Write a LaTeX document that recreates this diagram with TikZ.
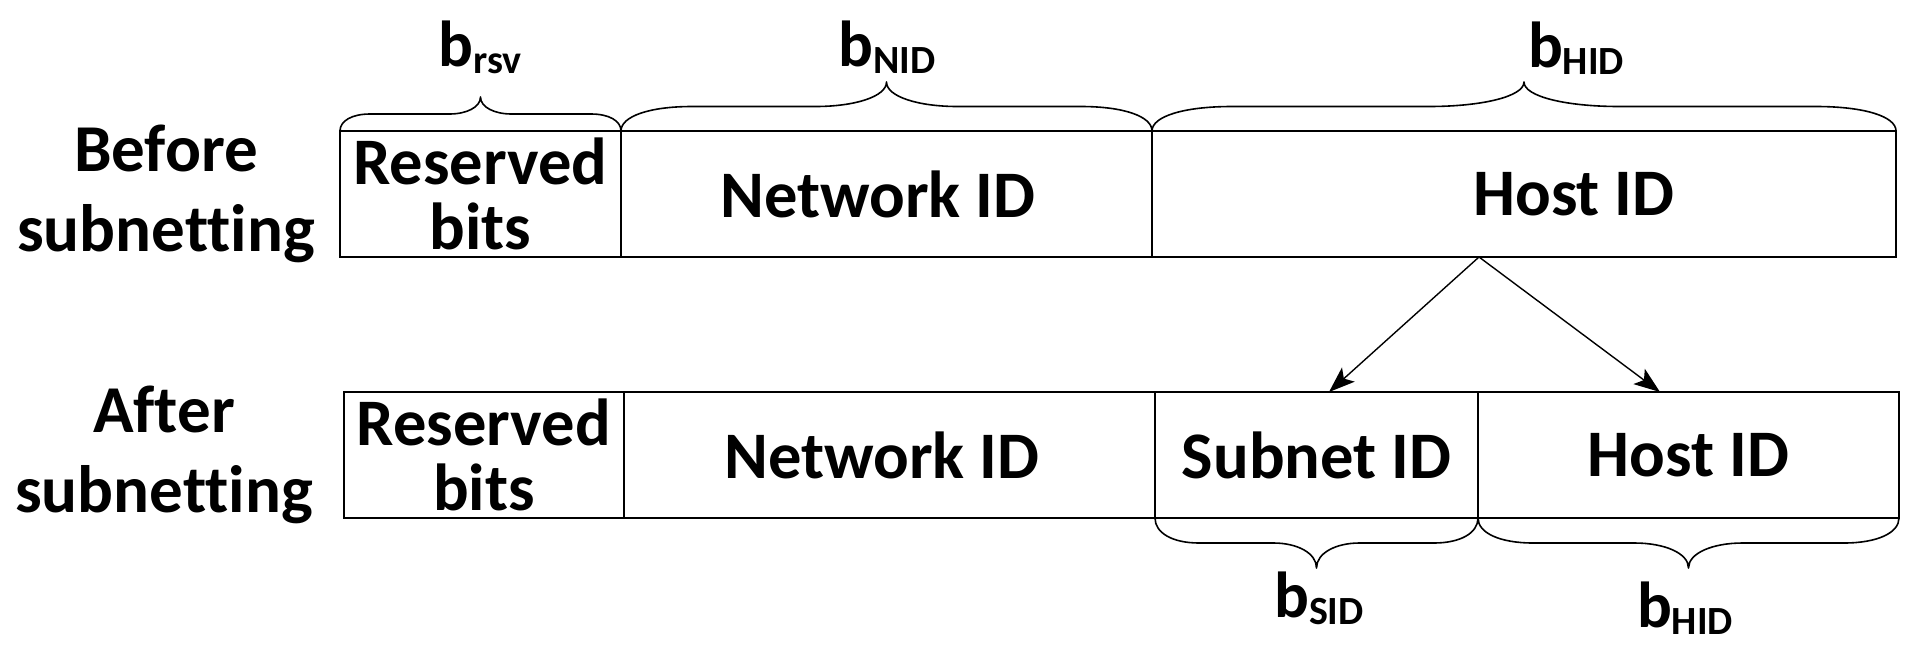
\documentclass[tikz,border=0pt]{standalone}
\usepackage{fontspec}
\setmainfont{Carlito}[Ligatures=NoCommon]
\usetikzlibrary{arrows.meta,calc}
\newcommand\cbrace[6]{%
 \pgfmathsetmacro\bxm{(#1+#2)/2}%
 \pgfmathsetmacro\bym{#3+#4/2}%
 \draw[bracestyle] (#1,#3) .. controls (#1,{#3+0.3*#4}) and ({#1+0.4*#5},\bym) .. ({#1+#5},\bym)
   -- ({\bxm-#6},\bym) .. controls ({\bxm-0.45*#6},\bym) and (\bxm,{#3+0.7*#4}) .. (\bxm,{#3+#4})
   .. controls (\bxm,{#3+0.7*#4}) and ({\bxm+0.45*#6},\bym) .. ({\bxm+#6},\bym)
   -- ({#2-#5},\bym) .. controls ({#2-0.4*#5},\bym) and (#2,{#3+0.3*#4}) .. (#2,#3);}
\begin{document}
\begin{tikzpicture}[x=1pt,y=-1pt,
  field/.style={draw=black,line width=1.6pt,inner sep=0pt,minimum height=126pt},
  fieldtext/.style={inner sep=0pt,align=center,font=\bfseries\fontsize{66.5}{65}\selectfont},
  rowlabel/.style={inner sep=0pt,align=center,font=\bfseries\fontsize{67}{80}\selectfont},
  sizelabel/.style={inner sep=0pt,anchor=base,font=\bfseries\fontsize{65}{65}\selectfont},
  bracestyle/.style={line width=1.6pt,line join=round},
  splitarrow/.style={line width=1.4pt,-{Stealth[length=26pt,width=19pt,inset=6pt]}}]
\useasboundingbox (0,0) rectangle (1920,665);
\newcommand\sub[1]{\raisebox{-7pt}{\fontsize{40}{40}\selectfont #1}}
% before
\node[field,minimum width=281pt] (rsvA) at (480.5,194) {};
\node[fieldtext] (rsvAt) at (rsvA.center) {Reserved\\bits};
\node[field,minimum width=531pt] (nidA) at (886.5,194) {};
\node[fieldtext] (nidAt) at (878,194) {Network ID};
\node[field,minimum width=744pt] (hidA) at (1524,194) {};
\node[fieldtext] (hidAt) at (1574,194) {Host ID};
% after
\node[field,minimum width=280pt] (rsvB) at (484,455) {};
\node[fieldtext] (rsvBt) at (rsvB.center) {Reserved\\bits};
\node[field,minimum width=531pt] (nidB) at (889.5,455) {};
\node[fieldtext] (nidBt) at (882,455) {Network ID};
\node[field,minimum width=323pt] (sidB) at (1316.5,455) {};
\node[fieldtext] (sidBt) at (sidB.center) {Subnet ID};
\node[field,minimum width=421pt] (hidB) at (1688.5,455) {};
\node[fieldtext] (hidBt) at (hidB.center) {Host ID};
% row labels
\node[rowlabel] (before) at (166,194) {Before\\subnetting};
\node[rowlabel] (after) at (164,455) {After\\subnetting};
% braces
\cbrace{340}{621}{131}{-34}{30}{31}
\cbrace{621}{1152}{131}{-49}{71}{71}
\cbrace{1152}{1896}{131}{-49}{80}{95}
\cbrace{1155}{1478}{518}{50}{44}{43}
\cbrace{1478}{1899}{518}{50}{55}{54}
% size labels
\node[sizelabel] (lrsv) at (480,66) {b\sub{rsv}};
\node[sizelabel] (lnid) at (887,66) {b\sub{NID}};
\node[sizelabel] (lhidA) at (1576,67) {b\sub{HID}};
\node[sizelabel] (lsid) at (1319,617) {b\sub{SID}};
\node[sizelabel] (lhidB) at (1685,627) {b\sub{HID}};
% arrows
\coordinate (split) at (1479,257);
\coordinate (toS) at (1329,392);
\coordinate (toH) at (1660,392);
\draw[splitarrow] (split) -- (toS);
\draw[splitarrow] (split) -- (toH);
\end{tikzpicture}
\end{document}
